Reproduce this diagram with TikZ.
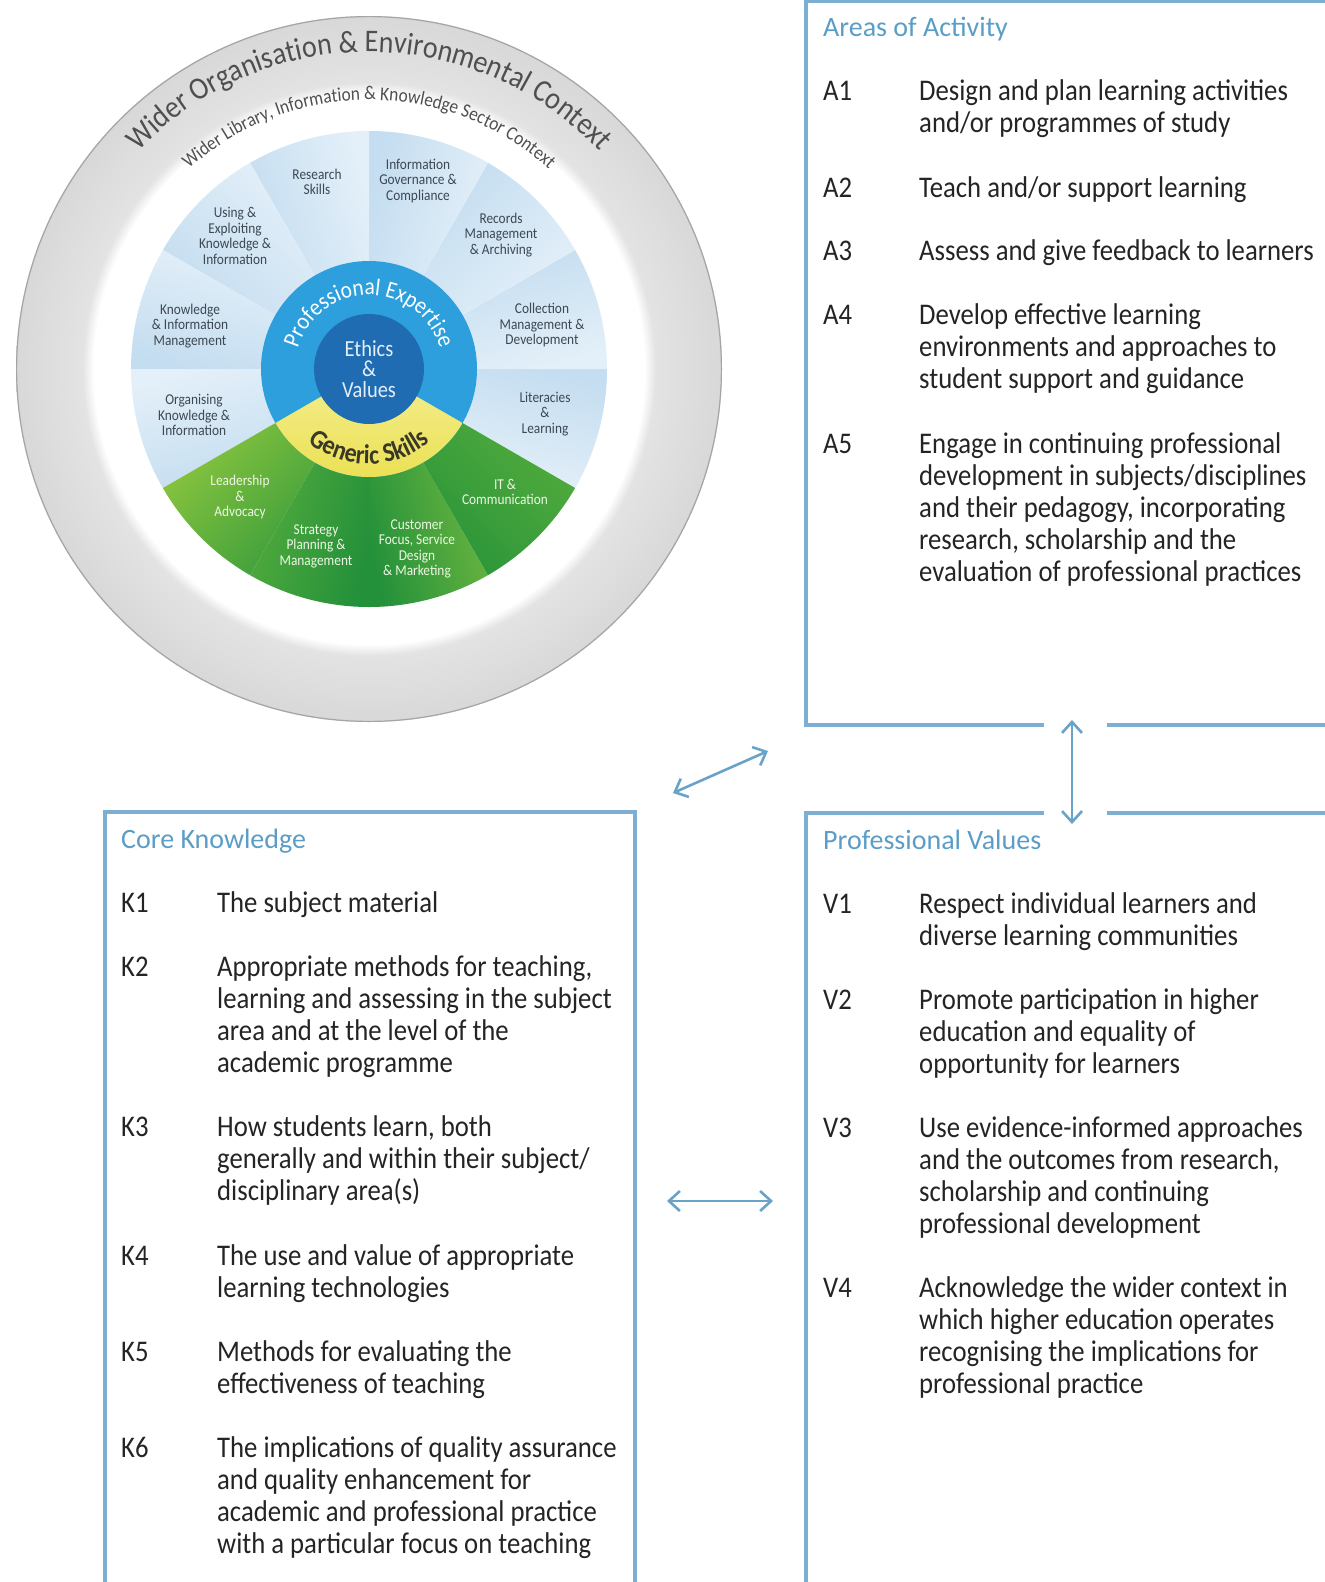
\documentclass[tikz,border=0pt]{standalone}
\usepackage{fontspec}
\setmainfont{Carlito}[FakeStretch=0.89]
\newfontfamily\headfam{Carlito}
\usetikzlibrary{arrows.meta,decorations.text}

% palette
\definecolor{frameblue}{HTML}{7DAFD2}
\definecolor{arrowblue}{HTML}{69A3C9}
\definecolor{headblue}{HTML}{5B9DC7}
\definecolor{bodytext}{HTML}{242424}
\definecolor{ringgray}{HTML}{D8D8D8}
\definecolor{ringgrayin}{HTML}{E3E3E3}
\definecolor{ringedge}{HTML}{A5A5A5}
\definecolor{ringtext}{HTML}{4F4F4F}
\definecolor{segdark}{HTML}{C4DDF0}
\definecolor{seglight}{HTML}{E4F0F9}
\definecolor{seglabel}{HTML}{3D4852}
\definecolor{greenlabel}{HTML}{EEF7E4}
\definecolor{expblue}{HTML}{2C9FDC}
\definecolor{ethblue}{HTML}{1F6CB3}
\definecolor{ethtext}{HTML}{E2EEF8}
\definecolor{skillyellow}{HTML}{EADF4C}
\definecolor{skillpale}{HTML}{F4EE92}
\definecolor{skilltext}{HTML}{3A3826}
\definecolor{leafA}{HTML}{3C9E3B}
\definecolor{leafB}{HTML}{8CC63F}
\definecolor{leafC}{HTML}{23903A}
\definecolor{leafD}{HTML}{52AB3D}
\definecolor{leafE}{HTML}{6BB63F}
\definecolor{leafF}{HTML}{2A9539}

% grey outer belt of the wheel (path edge = 25bp): white inside, grey from r=282 to r=353
\pgfdeclareradialshading{graybelt}{\pgfpoint{0bp}{0bp}}{color(0bp)=(white); color(19.5bp)=(white); color(20.3bp)=(ringgrayin); color(25bp)=(ringgray); color(50bp)=(ringgray)}

\newcommand\bodysize{\fontsize{30}{32.2}\selectfont}
\newcommand\headsize{\headfam\fontsize{28}{30}\selectfont}
\newcommand\segsize{\fontsize{15}{15.5}\selectfont}
% list entries: the baseline of the first line is the reference point
\newcommand\entrylines[1]{\begin{tabular}[t]{@{}l@{}}#1\end{tabular}}

\begin{document}
\begin{tikzpicture}[x=1pt,y=1pt,
  frame/.style={draw=frameblue, line width=3.2pt},
  biarrow/.style={draw=arrowblue, line width=2.6pt,
    {Straight Barb[length=11pt,width=20pt]}-{Straight Barb[length=11pt,width=20pt]}},
  head/.style={anchor=base west, inner sep=0pt, font=\headsize, text=headblue},
  code/.style={anchor=base west, inner sep=0pt, font=\bodysize, text=bodytext},
  item/.style={anchor=base west, inner sep=0pt, font=\bodysize, text=bodytext},
  seglbl/.style={inner sep=0pt, align=center, font=\segsize, text=seglabel},
  greenlbl/.style={seglbl, text=greenlabel},
]
\useasboundingbox (0,0) rectangle (1325,-1582);
\fill[white] (0,0) rectangle (1325,-1582);
\clip (0,0) rectangle (1325,-1582);

% ---------------- competency wheel ----------------
\begin{scope}[shift={(369,-369)}]
  \shade[shading=graybelt] (0,0) circle (353);
  \draw[ringedge, line width=1.2pt] (0,0) circle (352.4);

  % twelve 30-degree segments
  \foreach \a/\ccw/\cw [evaluate=\a as \b using \a+30, evaluate=\a as \t using \a+15] in
    {-30/segdark/seglight, 0/segdark/seglight, 30/segdark/seglight, 60/segdark/seglight,
     90/segdark/seglight, 120/segdark/seglight, 150/segdark/seglight, 180/segdark/seglight,
     -150/leafA/leafB, -120/leafC/leafD, -90/leafE/leafC, -60/leafD/leafF}{
    \shade[top color=\ccw, bottom color=\cw, shading angle=\t]
      (\a:107) arc[start angle=\a, end angle=\b, radius=107]
      -- (\b:238) arc[start angle=\b, end angle=\a, radius=238] -- cycle;
  }

  \fill[expblue] (0,0) circle (108);
  \shade[top color=skillpale, bottom color=skillyellow]
    (0,0) -- (-150:108) arc[start angle=-150, end angle=-30, radius=108] -- cycle;
  \fill[ethblue] (0,0) circle (55);

  % curved ring titles
  \path[decorate, decoration={text along path, text align=center,
      text={|\fontsize{31.5}{31.5}\selectfont\color{ringtext}|Wider Organisation {\&} Environmental Context}}]
    (170:317) arc[start angle=170, end angle=10, radius=317];
  \path[decorate, decoration={text along path, text align=center,
      text={|\fontsize{19.5}{19.5}\selectfont\color{ringtext}|Wider Library, Information {\&} Knowledge Sector Context}}]
    (165:269) arc[start angle=165, end angle=15, radius=269];
  \path[decorate, decoration={text along path, text align=center,
      text={|\fontsize{24}{24}\selectfont\color{white}|Professional Expertise}}]
    (182:74) arc[start angle=182, end angle=-2, radius=74];
  \path[decorate, decoration={text along path, text align=center,
      text={|\fontsize{27}{27}\selectfont\bfseries\color{skilltext}|Generic Skills}}]
    (-165:95) arc[start angle=-165, end angle=-15, radius=95];

  \node[align=center, inner sep=0pt, font=\fontsize{23}{20.5}\selectfont, text=ethtext]
    (ethics) at (0,0) {Ethics\\\&\\Values};
\end{scope}

% segment labels
\node[seglbl] (research)   at (317,-182) {Research\\Skills};
\node[seglbl] (governance) at (418,-181) {Information\\Governance \&\\Compliance};
\node[seglbl] (records)    at (501,-235) {Records\\Management\\\& Archiving};
\node[seglbl] (using)      at (235,-236) {Using \&\\Exploiting\\Knowledge \&\\Information};
\node[seglbl] (kim)        at (190,-326) {Knowledge\\\& Information\\Management};
\node[seglbl] (collection) at (542,-325) {Collection\\Management \&\\Development};
\node[seglbl] (organising) at (194,-415) {Organising\\Knowledge \&\\Information};
\node[seglbl] (literacies) at (545,-414) {Literacies\\\&\\Learning};
\node[greenlbl] (leadership) at (240,-497) {Leadership\\\&\\Advocacy};
\node[greenlbl] (itcomm)     at (505,-492) {IT \&\\Communication};
\node[greenlbl] (strategy)   at (316,-546) {Strategy\\Planning \&\\Management};
\node[greenlbl] (customer)   at (417,-549) {Customer\\Focus, Service\\Design\\\& Marketing};

% ---------------- framed lists ----------------
\draw[frame] (1340,-1.6) -- (806,-1.6) -- (806,-725) -- (1044,-725);
\draw[frame] (1107,-725) -- (1340,-725);
\draw[frame] (806,-1600) -- (806,-813) -- (1044,-813);
\draw[frame] (1107,-813) -- (1340,-813);
\draw[frame] (105,-1600) -- (105,-812) -- (635,-812) -- (635,-1600);

% Areas of Activity
\node[head] (aoa) at (823,-36) {Areas of Activity};
\node[code] (a1) at (823,-100) {A1};
\node[item] (a1t) at (919,-100) {\entrylines{Design and plan learning activities\\and/or programmes of study}};
\node[code] (a2) at (823,-197) {A2};
\node[item] (a2t) at (919,-197) {\entrylines{Teach and/or support learning}};
\node[code] (a3) at (823,-260) {A3};
\node[item] (a3t) at (919,-260) {\entrylines{Assess and give feedback to learners}};
\node[code] (a4) at (823,-324) {A4};
\node[item] (a4t) at (919,-324) {\entrylines{Develop effective learning\\environments and approaches to\\student support and guidance}};
\node[code] (a5) at (823,-453) {A5};
\node[item] (a5t) at (919,-453) {\entrylines{Engage in continuing professional\\development in subjects/disciplines\\and their pedagogy, incorporating\\research, scholarship and the\\evaluation of professional practices}};

% Core Knowledge
\node[head] (ck) at (121,-848) {Core Knowledge};
\node[code] (k1) at (121,-912) {K1};
\node[item] (k1t) at (217,-912) {\entrylines{The subject material}};
\node[code] (k2) at (121,-976) {K2};
\node[item] (k2t) at (217,-976) {\entrylines{Appropriate methods for teaching,\\learning and assessing in the subject\\area and at the level of the\\academic programme}};
\node[code] (k3) at (121,-1136) {K3};
\node[item] (k3t) at (217,-1136) {\entrylines{How students learn, both\\generally and within their subject/\\disciplinary area(s)}};
\node[code] (k4) at (121,-1265) {K4};
\node[item] (k4t) at (217,-1265) {\entrylines{The use and value of appropriate\\learning technologies}};
\node[code] (k5) at (121,-1361) {K5};
\node[item] (k5t) at (217,-1361) {\entrylines{Methods for evaluating the\\effectiveness of teaching}};
\node[code] (k6) at (121,-1457) {K6};
\node[item] (k6t) at (217,-1457) {\entrylines{The implications of quality assurance\\and quality enhancement for\\academic and professional practice\\with a particular focus on teaching}};

% Professional Values
\node[head] (pv) at (823,-849) {Professional Values};
\node[code] (v1) at (823,-913) {V1};
\node[item] (v1t) at (919,-913) {\entrylines{Respect individual learners and\\diverse learning communities}};
\node[code] (v2) at (823,-1009) {V2};
\node[item] (v2t) at (919,-1009) {\entrylines{Promote participation in higher\\education and equality of\\opportunity for learners}};
\node[code] (v3) at (823,-1137) {V3};
\node[item] (v3t) at (919,-1137) {\entrylines{Use evidence-informed approaches\\and the outcomes from research,\\scholarship and continuing\\professional development}};
\node[code] (v4) at (823,-1297) {V4};
\node[item] (v4t) at (919,-1297) {\entrylines{Acknowledge the wider context in\\which higher education operates\\recognising the implications for\\professional practice}};

% ---------------- connecting arrows ----------------
\coordinate (wheelend) at (673,-793);
\coordinate (aoaend) at (768,-751);
\draw[biarrow] (wheelend) -- (aoaend);
\coordinate (aoalow) at (1072,-720);
\coordinate (pvhigh) at (1072,-824);
\draw[biarrow] (aoalow) -- (pvhigh);
\coordinate (ckright) at (667,-1201);
\coordinate (pvleft) at (773,-1201);
\draw[biarrow] (ckright) -- (pvleft);
\end{tikzpicture}
\end{document}
